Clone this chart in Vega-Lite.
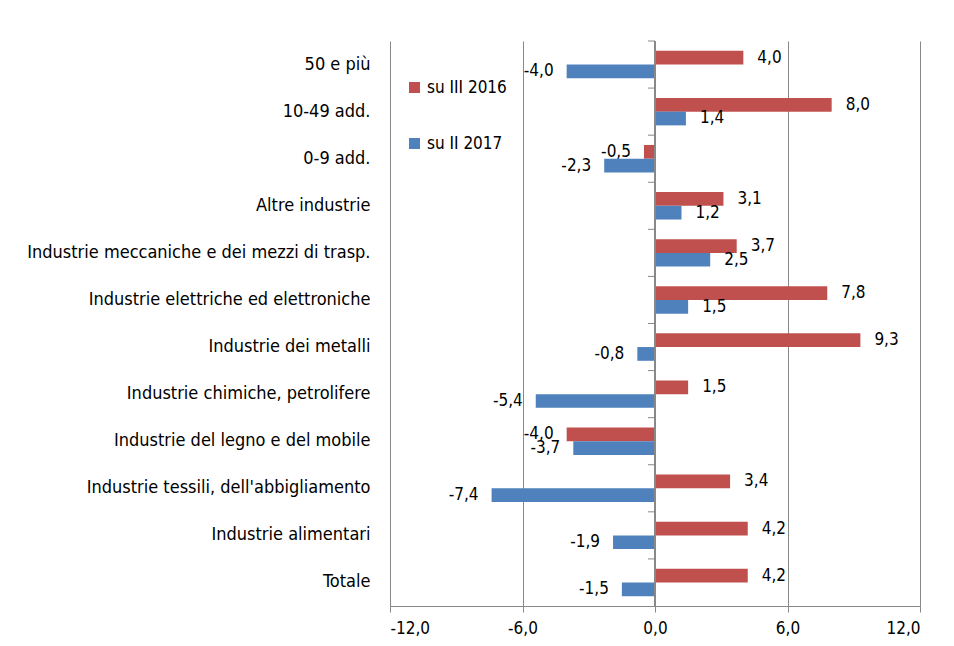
{
  "$schema": "https://vega.github.io/schema/vega-lite/v6.json",
  "width": 530,
  "height": 565,
  "autosize": {"type": "none"},
  "padding": {"left": 390, "top": 41, "right": 34, "bottom": 40},
  "background": "white",
  "config": {
    "locale": {"number": {"decimal": ",", "thousands": ".", "grouping": [3], "currency": ["€", ""], "minus": "-"}},
    "view": {"stroke": null},
    "font": "DejaVu Sans Condensed, DejaVu Sans"
  },
  "data": {
    "values": [
      {"categoria": "50 e più", "serie": "su III 2016", "valore": 4.0},
      {"categoria": "50 e più", "serie": "su II 2017", "valore": -4.0},
      {"categoria": "10-49 add.", "serie": "su III 2016", "valore": 8.0},
      {"categoria": "10-49 add.", "serie": "su II 2017", "valore": 1.4},
      {"categoria": "0-9 add.", "serie": "su III 2016", "valore": -0.5},
      {"categoria": "0-9 add.", "serie": "su II 2017", "valore": -2.3},
      {"categoria": "Altre industrie", "serie": "su III 2016", "valore": 3.1},
      {"categoria": "Altre industrie", "serie": "su II 2017", "valore": 1.2},
      {"categoria": "Industrie meccaniche e dei mezzi di trasp.", "serie": "su III 2016", "valore": 3.7},
      {"categoria": "Industrie meccaniche e dei mezzi di trasp.", "serie": "su II 2017", "valore": 2.5},
      {"categoria": "Industrie elettriche ed elettroniche", "serie": "su III 2016", "valore": 7.8},
      {"categoria": "Industrie elettriche ed elettroniche", "serie": "su II 2017", "valore": 1.5},
      {"categoria": "Industrie dei metalli", "serie": "su III 2016", "valore": 9.3},
      {"categoria": "Industrie dei metalli", "serie": "su II 2017", "valore": -0.8},
      {"categoria": "Industrie chimiche, petrolifere", "serie": "su III 2016", "valore": 1.5},
      {"categoria": "Industrie chimiche, petrolifere", "serie": "su II 2017", "valore": -5.4},
      {"categoria": "Industrie del legno e del mobile", "serie": "su III 2016", "valore": -4.0},
      {"categoria": "Industrie del legno e del mobile", "serie": "su II 2017", "valore": -3.7},
      {"categoria": "Industrie tessili, dell'abbigliamento", "serie": "su III 2016", "valore": 3.4},
      {"categoria": "Industrie tessili, dell'abbigliamento", "serie": "su II 2017", "valore": -7.4},
      {"categoria": "Industrie alimentari", "serie": "su III 2016", "valore": 4.2},
      {"categoria": "Industrie alimentari", "serie": "su II 2017", "valore": -1.9},
      {"categoria": "Totale", "serie": "su III 2016", "valore": 4.2},
      {"categoria": "Totale", "serie": "su II 2017", "valore": -1.5}
    ]
  },
  "resolve": {"scale": {"y": "independent"}},
  "layer": [
    {
      "encoding": {
        "y": {
          "field": "categoria",
          "type": "nominal",
          "sort": null,
          "scale": {"paddingInner": 0.416, "paddingOuter": 0.208},
          "axis": {
            "title": null,
            "ticks": false,
            "domain": false,
            "labelPadding": 20,
            "labelFontSize": 18,
            "labelColor": "#000000",
            "labelLimit": 0
          }
        },
        "yOffset": {"field": "serie", "sort": ["su III 2016", "su II 2017"]},
        "x": {
          "field": "valore",
          "type": "quantitative",
          "scale": {"domain": [-12, 12], "nice": false},
          "axis": {
            "title": null,
            "values": [-12, -6, 0, 6, 12],
            "format": ".1f",
            "grid": true,
            "gridColor": "#888888",
            "domainColor": "#888888",
            "tickColor": "#888888",
            "tickSize": 6,
            "labelFontSize": 17,
            "labelColor": "#000000",
            "labelPadding": 8
          }
        }
      },
      "layer": [
        {
          "mark": {"type": "bar"},
          "encoding": {
            "color": {
              "field": "serie",
              "type": "nominal",
              "scale": {"domain": ["su III 2016", "su II 2017"], "range": ["#C0504D", "#4F81BD"]},
              "legend": {
                "orient": "none",
                "legendX": 16,
                "legendY": 38,
                "title": null,
                "direction": "vertical",
                "symbolType": "square",
                "symbolSize": 121,
                "symbolStrokeWidth": 0,
                "labelFontSize": 17,
                "labelColor": "#000000",
                "labelOffset": 4,
                "rowPadding": 38,
                "padding": 0
              }
            }
          }
        },
        {
          "mark": {"type": "rule", "color": "#888888", "strokeWidth": 1},
          "encoding": {"x": {"datum": 0}, "y": null, "yOffset": null}
        },
        {
          "mark": {
            "type": "text",
            "fontSize": 17,
            "color": "#000000",
            "baseline": "middle",
            "align": {"expr": "datum.valore < 0 ? 'right' : 'left'"},
            "dx": {"expr": "datum.valore < 0 ? -13 : 14"}
          },
          "encoding": {
            "text": {"field": "valore", "type": "quantitative", "format": ".1f"}
          }
        }
      ]
    },
    {
      "transform": [{"filter": "datum.serie === 'su III 2016'"}],
      "mark": {"type": "rule", "color": "#888888", "strokeWidth": 1},
      "encoding": {
        "y": {
          "field": "categoria",
          "type": "nominal",
          "sort": null,
          "bandPosition": 0,
          "scale": {"paddingInner": 0, "paddingOuter": 0},
          "axis": null
        },
        "x": {"datum": 0},
        "x2": {"datum": -0.32}
      }
    }
  ]
}
